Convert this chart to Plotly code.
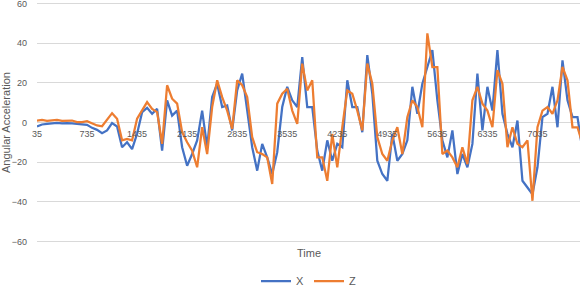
import plotly.graph_objects as go

x_start = 35
x_step = 70
tick_labels = [35, 735, 1435, 2135, 2835, 3535, 4235, 4935, 5635, 6335, 7035]

x_values = [
    -2, -1, -0.7, -0.5, -0.2, -0.5, -0.3, -0.5, -0.8, -0.8,
    -1.2, -2.7, -3.7, -5.4, -4, -0.3, -2, -12.5, -10, -13.4,
    -5.7, 5.2, 7.4, 4.4, 6.9, -14.2, 11.2, 3.5, 6, -12.5,
    -21.8, -15.9, -9, 6, -12.5, 12.8, 19.6, 7.8, 8.6, -4,
    16.2, 24.7, 6, -12.5, -24.3, -10.8, -17.6, -26, -15, 7.8,
    18, 11.2, 7.8, 33, 7.8, 7.8, -14.2, -24.3, -9, -19.3,
    -10.8, -12.5, 21.3, 7.8, 7.8, -4.9, 34, 14.5, -19.3, -26,
    -29.4, -5.7, -19.3, -15.9, -9, 18, 4.4, 19.6, 28, 36.5,
    11.2, -9, -17.6, -4, -26, -15.9, -22.6, -10.8, 24.7, -4,
    18, 6, 36.5, 4.4, -5.7, -12.5, 1, -29.4, -32.8, -36.2,
    -22.6, 2.7, 4.4, 18, -2.4, 31.4, 11.2, 2.7, 2.7, -14.2,
]

z_values = [
    1, 1.3, 0.8, 1, 1.3, 0.8, 1, 1, 0.2, 0.2,
    0.7, -0.3, -1.5, -1.9, 1.4, 4.7, 1.9, -9, -8.3, -9,
    1.9, 6, 10.3, 6.9, 5.2, -10.8, 18.8, 12, 9.5, -4.9,
    -10, -14.2, -22.6, -2.4, -15.9, 7.8, 21.3, 12.8, 6, -3.2,
    21.3, 18.8, 12.8, -7.4, -15, -15.9, -17.6, -31, 9.5, 14.5,
    17, 6, -0.7, 29.7, 16.2, 21.3, -17.6, -17.6, -29.4, -5.7,
    -22.6, -2.4, 16.2, 14.5, 6, -4, 29.7, 19.6, -7.4, -15.9,
    -19.3, -9, -2.4, -15.9, 2.7, 11.2, 7.8, -2.4, 45, 28,
    28, -15.9, -14.2, -17.6, -22.6, -12.5, -21, 11.2, 18, 9.5,
    6, -2.4, 26.4, 19.6, -12.5, -2.4, -10.8, -12.5, -9, -39.5,
    -2.4, 6, 7.8, 4.4, 11.2, 28, 21.3, -2.4, -2.4, -10.8,
]

x_axis = [x_start + i * x_step for i in range(len(x_values))]

fig = go.Figure()
fig.add_trace(go.Scatter(x=x_axis, y=x_values, mode="lines", name="X",
                         line=dict(color="#4472C4", width=2.25)))
fig.add_trace(go.Scatter(x=x_axis, y=z_values, mode="lines", name="Z",
                         line=dict(color="#ED7D31", width=2.25)))

font_family = "Liberation Sans"
fig.update_layout(
    width=582, height=288,
    margin=dict(l=37, r=2, t=2, b=45, autoexpand=False),
    paper_bgcolor="white", plot_bgcolor="white",
    showlegend=True,
    legend=dict(orientation="h", x=0.5, xanchor="center", y=-0.098, yanchor="top",
                yref="paper", font=dict(family=font_family, size=11, color="#595959"),
                itemwidth=30, tracegroupgap=0),
    xaxis=dict(range=[35, 7630], tickvals=tick_labels, ticktext=[str(t) for t in tick_labels],
               showgrid=False, zeroline=False, showline=False, anchor="free", position=0.5,
               tickfont=dict(family=font_family, size=9, color="#595959"),
               ticklabelstandoff=4, ticklabeloverflow="allow"),
    yaxis=dict(range=[-60.8, 60.8], tickvals=[-60, -40, -20, 0, 20, 40, 60],
               showgrid=True, gridcolor="#d9d9d9", gridwidth=1,
               zeroline=False, showline=False,
               tickfont=dict(family=font_family, size=9, color="#595959"),
               ticklabelstandoff=9, ticklabeloverflow="allow"),
    annotations=[
        dict(text="Time", x=0.5, y=-0.007, xref="paper", yref="paper", xanchor="center",
             yanchor="top", showarrow=False,
             font=dict(family=font_family, size=11, color="#595959")),
        dict(text="Angular Acceleration", x=-0.058, y=0.5, xref="paper", yref="paper",
             xanchor="center", yanchor="middle", textangle=-90, showarrow=False,
             font=dict(family=font_family, size=11, color="#595959")),
    ],
)

fig.write_html("out.html", config={"displayModeBar": False},
               post_script="document.body.style.margin='0';")
